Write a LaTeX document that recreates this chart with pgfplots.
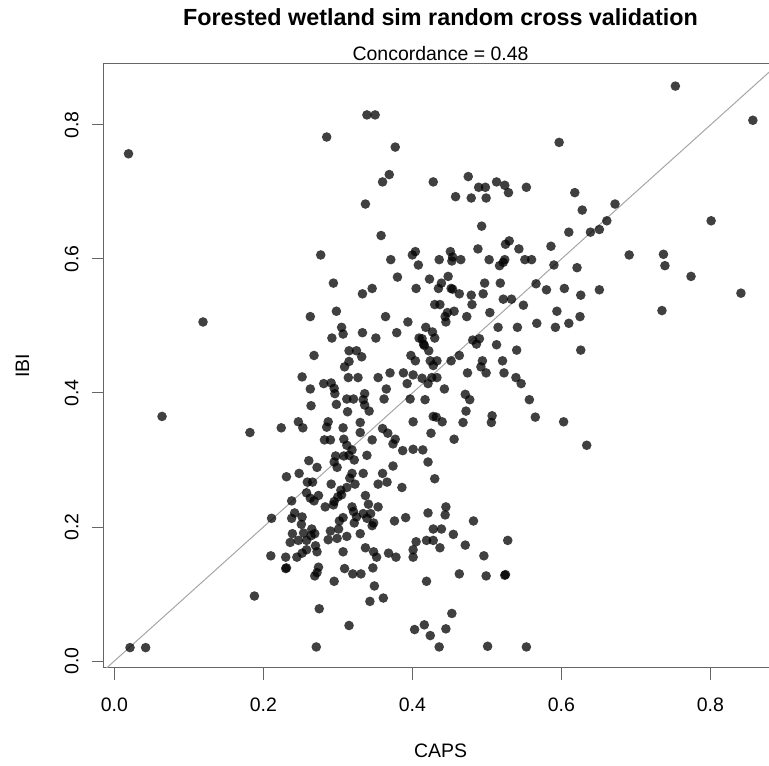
\documentclass[border=0pt]{standalone}
\usepackage{fontspec}
\setmainfont{Liberation Sans}
\usepackage{pgfplots}
\pgfplotsset{compat=1.18}
\begin{document}
\begin{tikzpicture}
\begin{axis}[
  at={(77.5pt,73.5pt)}, anchor=south west,
  scale only axis, width=505.8pt, height=453pt,
  xmin=-0.0148, xmax=0.8904, ymin=-0.0104, ymax=0.891,
  axis line style={black!60, line width=0.75pt},
  xtick={0,0.2,0.4,0.6,0.8}, ytick={0,0.2,0.4,0.6,0.8},
  xticklabels={0.0,0.2,0.4,0.6,0.8}, yticklabels={0.0,0.2,0.4,0.6,0.8},
  xtick pos=bottom, ytick pos=left, tick align=outside,
  major tick length=8.7pt,
  every tick/.style={black!60, line width=0.75pt},
  tick label style={font=\fontsize{14.6}{17}\selectfont},
  xticklabel style={anchor=base, yshift=-24.3pt},
  yticklabel style={xshift=-10.05pt, rotate=90, anchor=base},
  every axis x label/.style={at={(axis description cs:0.5,-0.149)}, anchor=base, font=\fontsize{14.6}{17}\selectfont},
  every axis y label/.style={at={(axis description cs:-0.110,0.5)}, rotate=90, anchor=base, font=\fontsize{14.6}{17}\selectfont},
  xlabel={CAPS}, ylabel={IBI},
  clip mode=individual,
]
\addplot[color=black!35, line width=0.75pt] coordinates {(-0.05,-0.05) (0.95,0.95)};
\addplot[only marks, mark=*, mark size=3.6pt, mark options={fill=black, fill opacity=0.75, draw opacity=0}] coordinates {
(0.019,0.757) (0.021,0.020) (0.042,0.020) (0.064,0.365) (0.119,0.506) (0.188,0.097) (0.182,0.341)
(0.339,0.815) (0.350,0.815) (0.285,0.782) (0.377,0.767) (0.369,0.726) (0.360,0.715) (0.337,0.682)
(0.358,0.635) (0.277,0.606) (0.404,0.611) (0.400,0.606) (0.371,0.599) (0.408,0.591) (0.380,0.573)
(0.294,0.564) (0.346,0.556) (0.333,0.548) (0.405,0.556) (0.263,0.514) (0.298,0.522) (0.364,0.514)
(0.394,0.506) (0.305,0.498) (0.307,0.488) (0.292,0.482) (0.333,0.490) (0.351,0.482) (0.379,0.490)
(0.409,0.482) (0.268,0.456) (0.315,0.463) (0.325,0.463) (0.332,0.454) (0.315,0.447) (0.309,0.439)
(0.398,0.456) (0.404,0.448)
(0.252,0.424) (0.263,0.406) (0.281,0.414) (0.291,0.415) (0.295,0.407) (0.296,0.399) (0.314,0.423)
(0.327,0.423) (0.354,0.423) (0.370,0.430) (0.388,0.430) (0.401,0.427) (0.393,0.414) (0.365,0.406)
(0.264,0.381) (0.298,0.383) (0.312,0.391) (0.321,0.391) (0.336,0.399) (0.334,0.390) (0.336,0.382)
(0.342,0.373) (0.362,0.391) (0.397,0.391) (0.313,0.372) (0.247,0.357) (0.253,0.348) (0.224,0.348)
(0.287,0.357) (0.285,0.349) (0.307,0.348) (0.330,0.356) (0.330,0.341) (0.360,0.347) (0.367,0.340)
(0.401,0.357) (0.282,0.330) (0.290,0.330) (0.308,0.331) (0.312,0.322) (0.346,0.330) (0.377,0.331)
(0.374,0.324) (0.387,0.314) (0.401,0.316) (0.319,0.315) (0.315,0.307) (0.339,0.307) (0.297,0.306)
(0.295,0.297) (0.299,0.289) (0.308,0.306) (0.322,0.300) (0.261,0.299) (0.272,0.289) (0.374,0.291)
(0.231,0.275) (0.248,0.280) (0.259,0.267) (0.266,0.267) (0.291,0.264) (0.319,0.280) (0.316,0.273)
(0.312,0.259) (0.323,0.264) (0.334,0.280) (0.360,0.280) (0.366,0.267) (0.354,0.264) (0.386,0.259)
(0.238,0.239) (0.258,0.251) (0.263,0.243) (0.274,0.247) (0.268,0.239) (0.304,0.255) (0.305,0.248)
(0.300,0.245) (0.295,0.238) (0.294,0.233) (0.283,0.230) (0.337,0.247) (0.341,0.234) (0.354,0.230)
(0.211,0.213) (0.242,0.221) (0.238,0.213) (0.252,0.215) (0.251,0.204) (0.319,0.230) (0.321,0.223)
(0.325,0.215) (0.334,0.220) (0.339,0.213) (0.344,0.220) (0.307,0.214) (0.302,0.209) (0.322,0.206)
(0.348,0.206) (0.346,0.202) (0.376,0.209) (0.391,0.214) (0.239,0.190) (0.236,0.177) (0.254,0.191)
(0.247,0.180) (0.258,0.180) (0.265,0.197) (0.269,0.190) (0.264,0.187) (0.290,0.194) (0.287,0.181)
(0.301,0.197) (0.299,0.183) (0.312,0.186) (0.330,0.190) (0.405,0.178) (0.270,0.172) (0.272,0.163)
(0.258,0.166) (0.252,0.161) (0.245,0.155) (0.210,0.157) (0.230,0.155) (0.307,0.163) (0.337,0.169)
(0.348,0.163) (0.352,0.155) (0.368,0.161) (0.378,0.155) (0.401,0.166) (0.401,0.155) (0.230,0.138)
(0.231,0.139) (0.274,0.140) (0.272,0.132) (0.269,0.127) (0.309,0.138) (0.320,0.130) (0.331,0.130)
(0.347,0.139) (0.295,0.119) (0.349,0.112) (0.343,0.089) (0.361,0.094) (0.275,0.078) (0.315,0.053)
(0.403,0.047) (0.271,0.021)
(0.597,0.774) (0.428,0.715) (0.475,0.723) (0.458,0.693) (0.479,0.691) (0.489,0.707) (0.498,0.707)
(0.499,0.691) (0.513,0.715) (0.524,0.710) (0.529,0.699) (0.553,0.707) (0.618,0.699) (0.628,0.673)
(0.672,0.682) (0.661,0.657) (0.651,0.644) (0.639,0.640) (0.610,0.640) (0.493,0.649) (0.586,0.619)
(0.530,0.627) (0.525,0.622) (0.543,0.615) (0.488,0.615) (0.451,0.611) (0.454,0.603) (0.453,0.597)
(0.465,0.599) (0.436,0.599) (0.503,0.599) (0.524,0.599) (0.522,0.595) (0.517,0.590) (0.551,0.599)
(0.560,0.599) (0.590,0.591) (0.621,0.587) (0.691,0.606) (0.423,0.570) (0.448,0.574) (0.439,0.564)
(0.435,0.556) (0.452,0.556) (0.454,0.555) (0.463,0.548) (0.497,0.564) (0.495,0.548) (0.518,0.564)
(0.479,0.546) (0.566,0.563) (0.580,0.554) (0.604,0.556) (0.626,0.546) (0.651,0.554) (0.430,0.532)
(0.437,0.532) (0.447,0.520) (0.444,0.514) (0.445,0.506) (0.456,0.522) (0.473,0.514) (0.480,0.532)
(0.522,0.540) (0.533,0.540) (0.549,0.531) (0.504,0.520) (0.594,0.522) (0.625,0.514) (0.418,0.498)
(0.427,0.491) (0.430,0.482) (0.415,0.473) (0.413,0.481) (0.416,0.471) (0.422,0.463) (0.515,0.498)
(0.541,0.498) (0.567,0.504) (0.592,0.498) (0.610,0.504) (0.481,0.479) (0.490,0.481) (0.486,0.473)
(0.513,0.472) (0.540,0.464) (0.626,0.464) (0.424,0.448) (0.433,0.448) (0.428,0.441) (0.452,0.448)
(0.463,0.456) (0.494,0.448) (0.492,0.439) (0.521,0.448)
(0.474,0.430) (0.499,0.430) (0.523,0.430) (0.426,0.423) (0.433,0.423) (0.421,0.414) (0.413,0.422)
(0.539,0.423) (0.546,0.414) (0.443,0.406) (0.471,0.398) (0.477,0.390) (0.417,0.390) (0.557,0.390)
(0.472,0.373) (0.428,0.365) (0.432,0.364) (0.440,0.357) (0.468,0.356) (0.507,0.366) (0.506,0.356)
(0.565,0.364) (0.603,0.357) (0.425,0.340) (0.456,0.331) (0.634,0.322) (0.414,0.315) (0.421,0.297)
(0.430,0.272) (0.445,0.230) (0.444,0.218) (0.421,0.221) (0.482,0.209) (0.428,0.197) (0.439,0.197)
(0.455,0.189) (0.419,0.180) (0.428,0.180) (0.437,0.169) (0.471,0.173) (0.528,0.180) (0.496,0.157)
(0.463,0.130) (0.499,0.127) (0.524,0.128) (0.525,0.129) (0.419,0.119) (0.453,0.071) (0.416,0.054)
(0.445,0.048) (0.424,0.038) (0.436,0.021) (0.501,0.022) (0.553,0.021)
(0.753,0.858) (0.857,0.807) (0.801,0.657) (0.737,0.607) (0.739,0.590) (0.774,0.574) (0.841,0.549)
(0.735,0.523)
};
\node[anchor=base, font=\fontsize{17.5}{21}\selectfont\bfseries] at (axis description cs:0.5,1.064) {Forested wetland sim random cross validation};
\node[anchor=base, font=\fontsize{14.6}{17}\selectfont] at (axis description cs:0.5,1.005) {Concordance = 0.48};
\end{axis}
\pgfresetboundingbox
\useasboundingbox (0,0) rectangle (576.75pt,574.5pt);
\end{tikzpicture}
\end{document}
